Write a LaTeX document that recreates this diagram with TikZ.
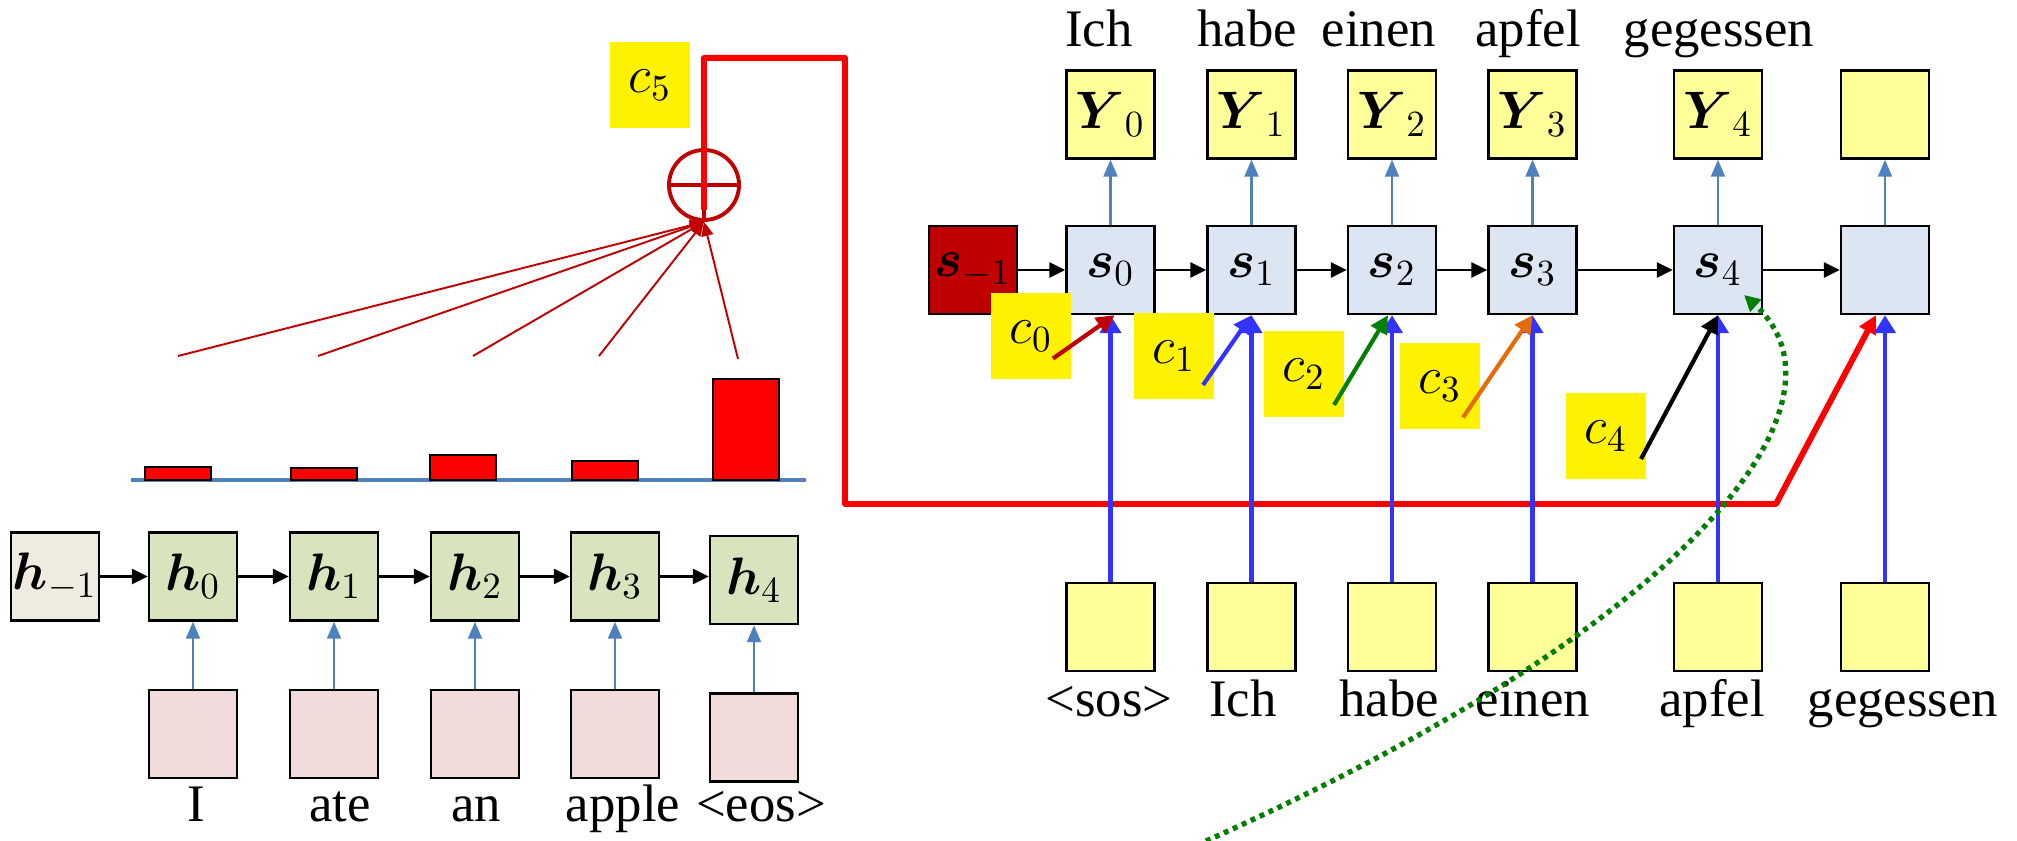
\RequirePackage{fix-cm}
\documentclass[tikz,border=0pt]{standalone}
\usepackage{amsmath,amssymb}
\usepackage{fontspec}
\setmainfont{Liberation Serif}
\usepackage{tikz}
\usetikzlibrary{arrows.meta, positioning, calc}

\definecolor{hgreen}{HTML}{D7E4BD}
\definecolor{hgray}{HTML}{EEECE1}
\definecolor{epink}{HTML}{F2DCDB}
\definecolor{sgray}{HTML}{DCE6F2}
\definecolor{ylight}{HTML}{FFFF99}
\definecolor{dred}{HTML}{C00000}
\definecolor{steel}{HTML}{4F81BD}
\definecolor{vblue}{HTML}{3333FF}
\definecolor{dgreen}{HTML}{007F00}
\definecolor{orng}{HTML}{E46C0A}

\begin{document}
\begin{tikzpicture}[
		font=\fontsize{15}{18}\selectfont,
		unit/.style={draw, line width=0.7pt, minimum width=0.88cm, minimum height=0.88cm, inner sep=0pt},
		hcell/.style={unit, fill=hgreen},
		ecell/.style={unit, fill=epink},
		scell/.style={unit, fill=sgray},
		ycell/.style={unit, fill=ylight},
		ctx/.style={fill=yellow, minimum width=0.80cm, minimum height=0.86cm, inner sep=0pt},
		word/.style={anchor=base, inner sep=0pt},
		rec/.style={-{Triangle[length=0.16cm,width=0.15cm]}, line width=0.8pt},
		feed/.style={-{Triangle[length=0.17cm,width=0.14cm]}, line width=0.6pt, steel},
		inp/.style={-{Triangle[length=0.18cm,width=0.21cm]}, line width=1.4pt, vblue},
		att/.style={-{Triangle[length=0.18cm,width=0.18cm]}, line width=1.2pt},
		fan/.style={-{Triangle[length=0.14cm,width=0.12cm]}, line width=0.55pt, dred},
	]
	\useasboundingbox (0,0) rectangle (20.17,-8.41);

	% encoder
	\node[unit, fill=hgray] (hm1) at (0.55,-5.765) {$\boldsymbol{h}_{-1}$};
	\node[hcell] (h0) at (1.93,-5.765) {$\boldsymbol{h}_0$};
	\node[hcell] (h1) at (3.34,-5.765) {$\boldsymbol{h}_1$};
	\node[hcell] (h2) at (4.75,-5.765) {$\boldsymbol{h}_2$};
	\node[hcell] (h3) at (6.15,-5.765) {$\boldsymbol{h}_3$};
	\node[hcell] (h4) at (7.54,-5.80) {$\boldsymbol{h}_4$};
	\node[ecell] (e0) at (1.93,-7.34) {};
	\node[ecell] (e1) at (3.34,-7.34) {};
	\node[ecell] (e2) at (4.75,-7.34) {};
	\node[ecell] (e3) at (6.15,-7.34) {};
	\node[ecell] (e4) at (7.54,-7.375) {};
	\node[word] (wi) at (1.96,-8.22) {I};
	\node[word] (wate) at (3.40,-8.22) {ate};
	\node[word] (wan) at (4.76,-8.22) {an};
	\node[word] (wapple) at (6.23,-8.22) {apple};
	\node[word] (weos) at (7.61,-8.22) {<eos>};
	\draw[rec] (hm1) -- (h0);
	\draw[rec] (h0) -- (h1);
	\draw[rec] (h1) -- (h2);
	\draw[rec] (h2) -- (h3);
	\draw[rec] (h3.east) -- (h3.east -| h4.west);
	\draw[feed] (e0) -- (h0);
	\draw[feed] (e1) -- (h1);
	\draw[feed] (e2) -- (h2);
	\draw[feed] (e3) -- (h3);
	\draw[feed] (e4) -- (h4);

	% attention weights
	\draw[steel, line width=0.9pt] (1.31,-4.80) -- (8.06,-4.80);
	\draw[fill=red, line width=0.4pt] (1.45,-4.80) rectangle (2.11,-4.67);
	\draw[fill=red, line width=0.4pt] (2.91,-4.80) rectangle (3.57,-4.68);
	\draw[fill=red, line width=0.4pt] (4.30,-4.80) rectangle (4.96,-4.55);
	\draw[fill=red, line width=0.4pt] (5.72,-4.80) rectangle (6.38,-4.61);
	\draw[fill=red, line width=0.4pt] (7.13,-4.80) rectangle (7.79,-3.79);

	\node[circle, draw=dred, line width=1.1pt, minimum size=0.70cm, inner sep=0pt] (sum) at (7.04,-1.85) {};
	\draw[dred, line width=1.1pt] (sum.west) -- (sum.east);
	\draw[dred, line width=1.1pt] (sum.north) -- (sum.south);
	\coordinate (f0) at (1.78,-3.56);
	\coordinate (f1) at (3.18,-3.56);
	\coordinate (f2) at (4.73,-3.56);
	\coordinate (f3) at (5.99,-3.56);
	\coordinate (f4) at (7.38,-3.59);
	\draw[fan] (f0) -- (sum.south);
	\draw[fan] (f1) -- (sum.south);
	\draw[fan] (f2) -- (sum.south);
	\draw[fan] (f3) -- (sum.south);
	\draw[fan] (f4) -- (sum.south);
	\node[ctx] (c5) at (6.50,-0.85) {$c_5$};

	% decoder
	\node[unit, fill=dred] (sm1) at (9.73,-2.70) {$\boldsymbol{s}_{-1}$};
	\node[scell] (s0) at (11.105,-2.70) {$\boldsymbol{s}_0$};
	\node[scell] (s1) at (12.515,-2.70) {$\boldsymbol{s}_1$};
	\node[scell] (s2) at (13.92,-2.70) {$\boldsymbol{s}_2$};
	\node[scell] (s3) at (15.325,-2.70) {$\boldsymbol{s}_3$};
	\node[scell] (s4) at (17.18,-2.70) {$\boldsymbol{s}_4$};
	\node[scell] (s5) at (18.85,-2.70) {};
	\node[ycell] (y0) at (11.105,-1.145) {$\boldsymbol{Y}_0$};
	\node[ycell] (y1) at (12.515,-1.145) {$\boldsymbol{Y}_1$};
	\node[ycell] (y2) at (13.92,-1.145) {$\boldsymbol{Y}_2$};
	\node[ycell] (y3) at (15.325,-1.145) {$\boldsymbol{Y}_3$};
	\node[ycell] (y4) at (17.18,-1.145) {$\boldsymbol{Y}_4$};
	\node[ycell] (y5) at (18.85,-1.145) {};
	\node[ycell] (x0) at (11.105,-6.27) {};
	\node[ycell] (x1) at (12.515,-6.27) {};
	\node[ycell] (x2) at (13.92,-6.27) {};
	\node[ycell] (x3) at (15.325,-6.27) {};
	\node[ycell] (x4) at (17.18,-6.27) {};
	\node[ycell] (x5) at (18.85,-6.27) {};
	\node[word] (oich) at (10.99,-0.47) {Ich};
	\node[word] (ohabe) at (12.47,-0.47) {habe};
	\node[word] (oeinen) at (13.79,-0.47) {einen};
	\node[word] (oapfel) at (15.28,-0.47) {apfel};
	\node[word] (ogegessen) at (17.19,-0.47) {gegessen};
	\node[word] (isos) at (11.09,-7.17) {<sos>};
	\node[word] (iich) at (12.43,-7.17) {Ich};
	\node[word] (ihabe) at (13.89,-7.17) {habe};
	\node[word] (ieinen) at (15.33,-7.17) {einen};
	\node[word] (iapfel) at (17.12,-7.17) {apfel};
	\node[word] (igegessen) at (19.03,-7.17) {gegessen};
	\draw[rec] (sm1) -- (s0);
	\draw[rec] (s0) -- (s1);
	\draw[rec] (s1) -- (s2);
	\draw[rec] (s2) -- (s3);
	\draw[rec] (s3) -- (s4);
	\draw[rec] (s4) -- (s5);
	\draw[feed] (s0) -- (y0);
	\draw[feed] (s1) -- (y1);
	\draw[feed] (s2) -- (y2);
	\draw[feed] (s3) -- (y3);
	\draw[feed] (s4) -- (y4);
	\draw[feed] (s5) -- (y5);

	% context of the last step
	\coordinate (r1) at (8.45,-0.58);
	\coordinate (r2) at (17.76,-5.04);
	\draw[att, red, line width=1.7pt, line join=round] ($(sum.center)+(0,-0.25)$) |- (r1) |- (r2) -- ($(s5.south)+(-0.09,0)$);

	\draw[inp] (x0) -- (s0);
	\draw[inp] (x1) -- (s1);
	\draw[inp] (x2) -- (s2);
	\draw[inp] (x3) -- (s3);
	\draw[inp] (x4) -- (s4);
	\draw[inp] (x5) -- (s5);

	\node[ctx] (c0) at (10.31,-3.365) {$c_0$};
	\node[ctx] (c1) at (11.74,-3.56) {$c_1$};
	\node[ctx] (c2) at (13.04,-3.74) {$c_2$};
	\node[ctx] (c3) at (14.40,-3.865) {$c_3$};
	\node[ctx] (c4) at (16.06,-4.36) {$c_4$};
	\draw[att, dred] ($(c0)+(0.22,-0.22)$) -- ($(s0.south)+(0.04,0)$);
	\draw[att, vblue] ($(c1)+(0.29,-0.29)$) -- (s1.south);
	\draw[att, dgreen] ($(c2)+(0.30,-0.31)$) -- ($(s2.south)+(-0.04,0)$);
	\draw[att, orng] ($(c3)+(0.23,-0.31)$) -- (s3.south);
	\draw[att, black] ($(c4)+(0.35,-0.23)$) -- (s4.south);

	\coordinate (gstart) at (12.06,-8.41);
	\draw[dgreen, line width=1.5pt, dash pattern=on 1.4pt off 1.4pt, -{Triangle[length=0.16cm,width=0.16cm]}]
		(gstart) .. controls (17.00,-6.20) and (18.60,-4.00) .. ($(s4.center)+(0.26,-0.25)$);
\end{tikzpicture}
\end{document}
